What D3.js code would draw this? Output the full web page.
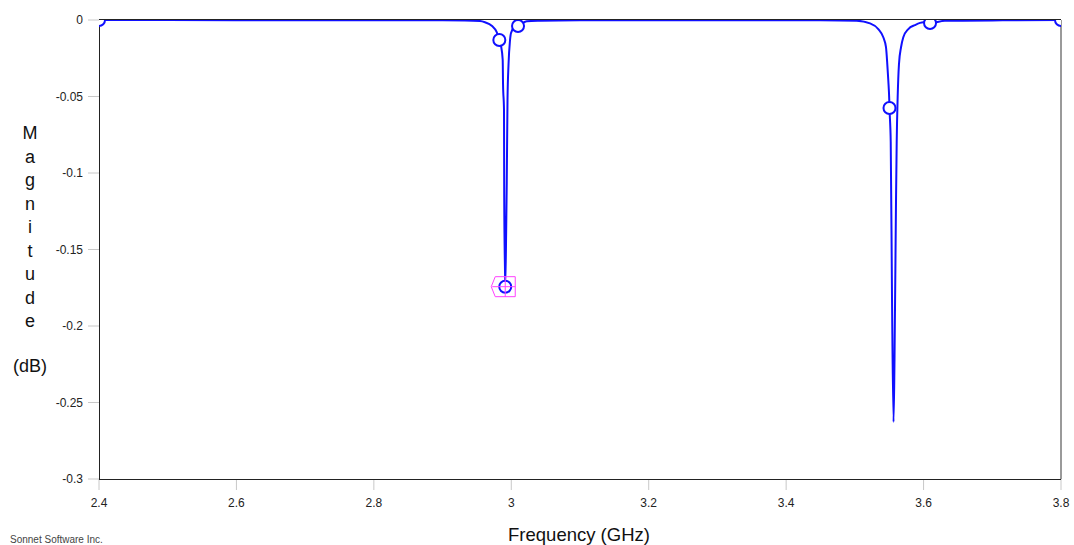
<!DOCTYPE html>
<html>
<head>
<meta charset="utf-8">
<script src="https://cdn.jsdelivr.net/npm/d3@7"></script>
<style>
  body { margin: 0; background: #fff; }
  svg { display: block; font-family: "Liberation Sans", Arial, sans-serif; }
</style>
</head>
<body>
<div id="chart"></div>
<script>
// frequency sweep (GHz) and magnitude (dB)
var freq = [2.4, 2.6, 2.8, 2.9, 2.9326, 2.9545, 2.9617, 2.9715, 2.9788, 2.9826, 2.9850, 2.9875,
  2.9880, 2.9894, 2.9897, 2.9909, 2.9912, 2.9925, 2.9934, 2.9945, 2.9960, 2.9981, 2.9996,
  3.0044, 3.0098, 3.0224, 3.0418, 3.1, 3.3, 3.45, 3.5027, 3.5221, 3.5341, 3.5414, 3.5453,
  3.5472, 3.5487, 3.5501, 3.5504, 3.5522, 3.5541, 3.5563, 3.5577, 3.5599, 3.5609, 3.5623,
  3.5642, 3.5672, 3.5705, 3.5778, 3.5875, 3.5996, 3.6094, 3.631, 3.70, 3.733, 3.8];
var mag = [0, -0.0001, -0.0002, -0.0002, -0.0003, -0.0007, -0.0015, -0.0037, -0.0080, -0.0131, -0.0168, -0.0260,
  -0.0420, -0.0588, -0.1155, -0.1654, -0.1743, -0.1400, -0.1065, -0.0523, -0.0288, -0.0135, -0.0085,
  -0.0048, -0.0039, -0.0008, -0.0005, -0.0002, -0.0001, -0.0002, -0.0005, -0.0022, -0.0059, -0.0113, -0.0178,
  -0.0288, -0.0397, -0.0527, -0.0575, -0.0797, -0.1830, -0.2627, -0.2220, -0.1176, -0.0797, -0.0505,
  -0.0288, -0.0178, -0.0113, -0.0059, -0.0033, -0.0015, -0.0020, -0.0005, -0.0003, -0.0001, 0];

// simulated points shown with circle markers
var markFreq = [2.4, 2.9826, 3.0098, 3.5504, 3.6094, 3.8];
var markMag = [0, -0.0131, -0.0039, -0.0575, -0.0020, 0];

// the highlighted point
var hiFreq = 2.9912;
var hiMag = -0.1743;

var xTicks = [2.4, 2.6, 2.8, 3.0, 3.2, 3.4, 3.6, 3.8];
var yTicks = [0, -0.05, -0.1, -0.15, -0.2, -0.25, -0.3];
var yTitle = ["M", "a", "g", "n", "i", "t", "u", "d", "e"];

var width = 1074, height = 545;
var margin = {left: 99, right: 13, top: 20, bottom: 66};

var svg = d3.select("#chart").append("svg")
  .attr("width", width)
  .attr("height", height);

var x = d3.scaleLinear().domain([2.4, 3.8]).range([margin.left, width - margin.right]);
var y = d3.scaleLinear().domain([0, -0.3]).range([margin.top, height - margin.bottom]);

// tick marks and labels
svg.append("g").selectAll("line")
  .data(yTicks)
  .enter().append("line")
  .attr("x1", margin.left - 11).attr("x2", margin.left)
  .attr("y1", function(d) { return y(d); }).attr("y2", function(d) { return y(d); })
  .style("stroke", "#c8c8c8");

svg.append("g").selectAll("text")
  .data(yTicks)
  .enter().append("text")
  .attr("x", margin.left - 16)
  .attr("y", function(d) { return y(d) + 4; })
  .attr("text-anchor", "end")
  .style("font-size", "12px")
  .style("fill", "#222")
  .text(function(d) { return d === 0 ? "0" : d3.format("")(d).replace("−", "-"); });

svg.append("g").selectAll("line")
  .data(xTicks)
  .enter().append("line")
  .attr("x1", function(d) { return x(d); }).attr("x2", function(d) { return x(d); })
  .attr("y1", y(-0.3)).attr("y2", y(-0.3) + 11)
  .style("stroke", "#c8c8c8");

svg.append("g").selectAll("text")
  .data(xTicks)
  .enter().append("text")
  .attr("x", function(d) { return x(d); })
  .attr("y", y(-0.3) + 28)
  .attr("text-anchor", "middle")
  .style("font-size", "12px")
  .style("fill", "#222")
  .text(function(d) { return d3.format("")(d); });

// frame
svg.append("line")
  .attr("x1", x(3.8)).attr("x2", x(3.8)).attr("y1", y(0)).attr("y2", y(-0.3))
  .style("stroke", "#9a9a9a").style("stroke-width", 2);
svg.append("line")
  .attr("x1", x(2.4)).attr("x2", x(3.8)).attr("y1", y(0) - 0.5).attr("y2", y(0) - 0.5)
  .style("stroke", "#222");
svg.append("line")
  .attr("x1", x(2.4) + 0.5).attr("x2", x(2.4) + 0.5).attr("y1", y(0)).attr("y2", y(-0.3))
  .style("stroke", "#222");
svg.append("line")
  .attr("x1", x(2.4)).attr("x2", x(3.8)).attr("y1", y(-0.3) + 0.5).attr("y2", y(-0.3) + 0.5)
  .style("stroke", "#222");

svg.append("clipPath").attr("id", "plot-clip")
  .append("rect")
  .attr("x", x(2.4)).attr("y", y(0))
  .attr("width", x(3.8) - x(2.4)).attr("height", y(-0.3) - y(0));

var plot = svg.append("g").attr("clip-path", "url(#plot-clip)");

var pts = freq.map(function(f, i) { return [f, mag[i]]; });
var line = d3.line()
  .x(function(d) { return x(d[0]); })
  .y(function(d) { return y(d[1]); })
  .curve(d3.curveMonotoneX);

plot.append("path")
  .datum(pts)
  .attr("d", line)
  .style("fill", "none")
  .style("stroke", "#1010ff")
  .style("stroke-width", 2);

plot.selectAll(".mark")
  .data(markFreq)
  .enter().append("circle")
  .attr("class", "mark")
  .attr("cx", function(d) { return x(d); })
  .attr("cy", function(d, i) { return y(markMag[i]); })
  .attr("r", 6)
  .style("fill", "#fff")
  .style("stroke", "#1010ff")
  .style("stroke-width", 2);

// highlighted point: circle plus magenta pointer
var hx = x(hiFreq), hy = y(hiMag);
plot.append("circle")
  .attr("cx", hx).attr("cy", hy).attr("r", 6)
  .style("fill", "#fff").style("stroke", "#1010ff").style("stroke-width", 2);
plot.append("path")
  .attr("d", "M" + (hx - 14) + "," + hy + "L" + (hx - 10) + "," + (hy - 10) + "L" + (hx + 10) + "," + (hy - 10) +
    "L" + (hx + 10) + "," + (hy + 10) + "L" + (hx - 10) + "," + (hy + 10) + "Z" +
    "M" + (hx - 13) + "," + hy + "L" + (hx + 10) + "," + hy +
    "M" + hx + "," + (hy - 10) + "L" + hx + "," + (hy + 10))
  .style("fill", "none")
  .style("stroke", "#ff40ff")
  .style("stroke-width", 1);

// titles
svg.append("text")
  .attr("x", 579).attr("y", 541)
  .attr("text-anchor", "middle")
  .style("font-size", "18.5px")
  .style("fill", "#111")
  .text("Frequency (GHz)");

svg.append("g").selectAll("text")
  .data(yTitle)
  .enter().append("text")
  .attr("x", 30)
  .attr("y", function(d, i) { return 139 + i * 23.5; })
  .attr("text-anchor", "middle")
  .style("font-size", "18px")
  .style("fill", "#111")
  .text(function(d) { return d; });

svg.append("text")
  .attr("x", 30).attr("y", 372)
  .attr("text-anchor", "middle")
  .style("font-size", "18px")
  .style("fill", "#111")
  .text("(dB)");

svg.append("text")
  .attr("x", 10).attr("y", 543)
  .style("font-size", "10px")
  .style("fill", "#444")
  .text("Sonnet Software Inc.");
</script>
</body>
</html>
